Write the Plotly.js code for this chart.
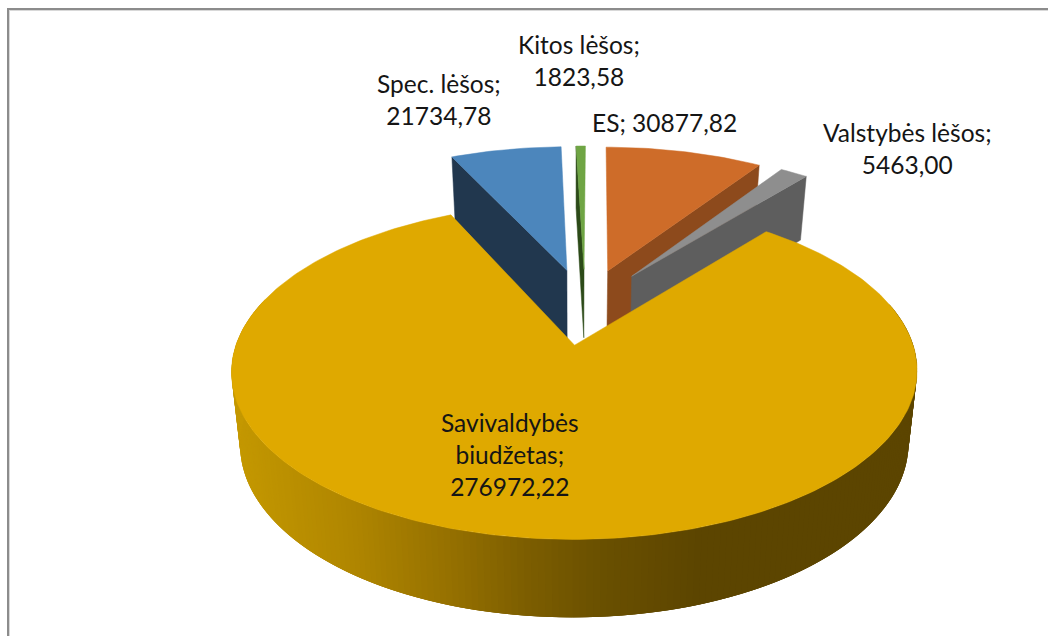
<!DOCTYPE html>
<html>
<head>
<meta charset="utf-8">
<script src="https://cdn.plot.ly/plotly-3.0.1.min.js"></script>
<style>html,body{margin:0;padding:0;background:#fff;overflow:hidden}</style>
</head>
<body>
<div id="chart" style="width:1048px;height:636px"></div>
<script>
// ---- data (clockwise order) ----
var categories = ["Savivaldybės biudžetas", "Spec. lėšos", "Kitos lėšos", "ES", "Valstybės lėšos"];
var values = [276972.22, 21734.78, 1823.58, 30877.82, 5463.00];
var labelLines = [["Savivaldybės", "biudžetas;"], ["Spec. lėšos;"], ["Kitos lėšos;"], ["ES;"], ["Valstybės lėšos;"]];
var inlineValue = [false, false, false, true, false];

// ---- style ----
var topColors = ["#DFA900", "#4C86BC", "#6FA544", "#CE6C29", "#8E8E8E"];
var wallColors = ["#8A6900", "#21374E", "#2C4A18", "#8D4A1C", "#5E5E5E"];
var gradX = [232, 350, 450, 524, 600, 700, 918];
var gradC = [[196,152,0],[176,134,0],[149,112,0],[125,94,0],[106,80,0],[92,69,0],[92,69,0]];
var labelX = [510, 439, 578.5, 664, 907];
var labelY = [503, 132, 93, 139, 181];

// ---- projection of the tilted, exploded pie onto the axes ----
var cx = 585, y0 = 306, R = 326, B = 152, k = 0.15, explode = 0.25, firstAngle = 50.9;
function project(u, v) { var w = 1 + k * v; return [cx + R * u / w, y0 - B * v / w]; }
function lower(p, v) { return [575 + (p[0] - 575) * 0.975, p[1] + 70 - 6.4 * v]; }

var total = values.reduce(function (a, b) { return a + b; }, 0);
var slices = [], ang = firstAngle;
values.forEach(function (val, i) {
  var span = val / total * 360, a0 = ang, a1 = ang - span, mid = (a0 + a1) / 2 * Math.PI / 180;
  slices.push({ i: i, start: a0, end: a1, ux: explode * Math.cos(mid), vy: explode * Math.sin(mid) });
  ang = a1;
});
// the slices after the main one run on past -180 degrees: normalise for readability
function rim(s, deg) {
  var t = deg * Math.PI / 180, u = s.ux + Math.cos(t), v = s.vy + Math.sin(t);
  return { p: project(u, v), v: v };
}
function poly(pts, color, lw) {
  return { type: "scatter", mode: "lines", x: pts.map(function (p) { return p[0]; }), y: pts.map(function (p) { return p[1]; }),
    fill: "toself", fillcolor: color, line: { color: color, width: lw }, hoverinfo: "skip", showlegend: false };
}
function topFace(s) {
  var pts = [project(s.ux, s.vy)], n = Math.max(4, Math.ceil((s.start - s.end) / 1));
  for (var j = 0; j <= n; j++) pts.push(rim(s, s.start + (s.end - s.start) * j / n).p);
  pts.push(pts[0]);
  return poly(pts, topColors[s.i], 0.5);
}
function radialWall(s, deg) {
  var a = { p: project(s.ux, s.vy), v: s.vy }, b = rim(s, deg);
  return poly([a.p, b.p, lower(b.p, b.v), lower(a.p, a.v), a.p], wallColors[s.i], 0.5);
}
function gradColor(x) {
  var n = gradX.length - 1;
  if (x <= gradX[0]) return "rgb(" + gradC[0].join(",") + ")";
  for (var i = 0; i < n; i++) if (x <= gradX[i + 1]) {
    var f = (x - gradX[i]) / (gradX[i + 1] - gradX[i]);
    return "rgb(" + gradC[i].map(function (c, j) { return Math.round(c + (gradC[i + 1][j] - c) * f); }).join(",") + ")";
  }
  return "rgb(" + gradC[n].join(",") + ")";
}

var traces = [];
// back slices first: ES, Valstybės, Spec., Kitos
traces.push(radialWall(slices[3], slices[3].end), topFace(slices[3]));
traces.push(radialWall(slices[4], slices[4].end), topFace(slices[4]));
traces.push(radialWall(slices[1], slices[1].start), topFace(slices[1]));
traces.push(radialWall(slices[2], slices[2].start), topFace(slices[2]));
// main slice outer wall: overlapping strips so no seams show
var main = slices[0], step = 1;
for (var d = 15; d > -195; d -= step) {
  var a = rim(main, d), b = rim(main, d - 3 * step), c = rim(main, d - step);
  traces.push(poly([a.p, b.p, lower(b.p, b.v), lower(a.p, a.v), a.p], gradColor((a.p[0] + c.p[0]) / 2), 0));
}
traces.push(topFace(main));

function fmt(v) { return v.toFixed(2).replace(".", ","); }
var annotations = categories.map(function (c, i) {
  var lines = labelLines[i].slice();
  if (inlineValue[i]) lines[lines.length - 1] += " " + fmt(values[i]);
  else lines.push(fmt(values[i]));
  return { xref: "x", yref: "y", x: labelX[i], y: labelY[i], text: lines.join("<br>"), showarrow: false, align: "center",
    xanchor: "center", yanchor: "bottom", font: { family: "Lato, Carlito, sans-serif", size: 24.5, color: "#151515" } };
});

var layout = {
  width: 1048, height: 636, margin: { l: 0, r: 0, t: 0, b: 0 }, paper_bgcolor: "#fff", plot_bgcolor: "#fff", showlegend: false,
  xaxis: { range: [0, 1048], visible: false, fixedrange: true },
  yaxis: { range: [636, 0], visible: false, fixedrange: true },
  annotations: annotations,
  shapes: [
    { type: "line", xref: "x", yref: "y", x0: 9.5, x1: 9.5, y0: 10, y1: 636, line: { color: "#d8d8d8", width: 1 } },
    { type: "line", xref: "x", yref: "y", x0: 9, x1: 1048, y0: 10.5, y1: 10.5, line: { color: "#d8d8d8", width: 1 } },
    { type: "line", xref: "x", yref: "y", x0: 8, x1: 8, y0: 8, y1: 636, line: { color: "#8c8c8c", width: 2 } },
    { type: "line", xref: "x", yref: "y", x0: 7, x1: 1048, y0: 9, y1: 9, line: { color: "#8c8c8c", width: 2 } }
  ]
};
Plotly.newPlot("chart", traces, layout, { displayModeBar: false, staticPlot: true });
</script>
</body>
</html>
